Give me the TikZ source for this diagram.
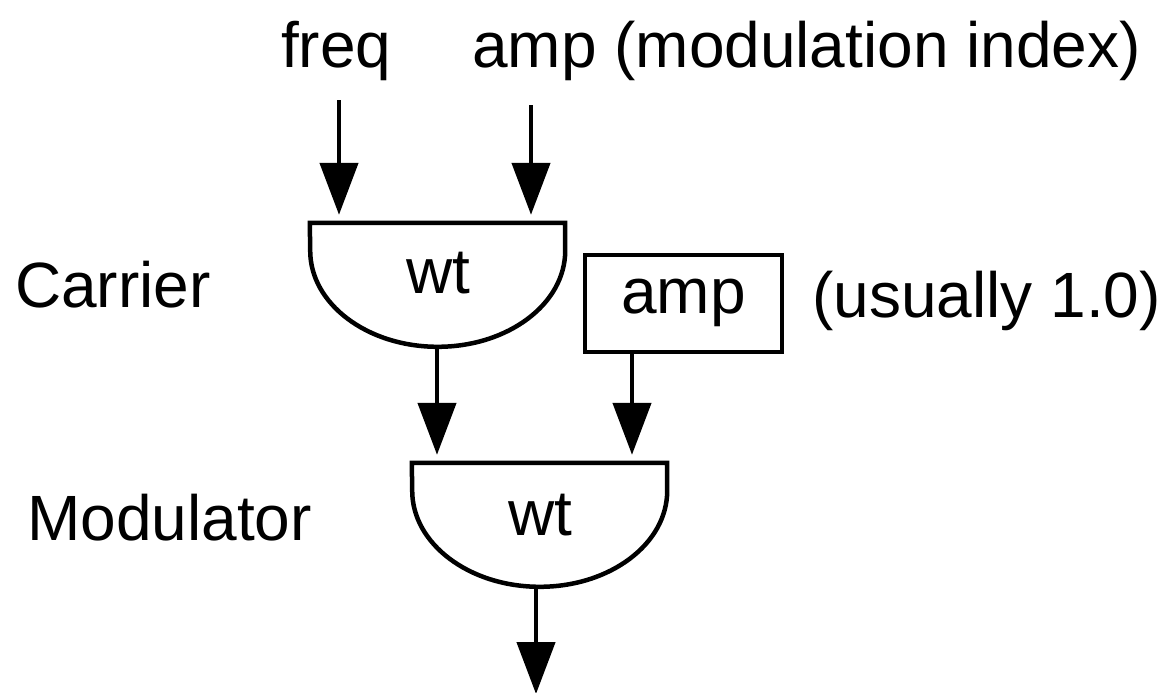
\documentclass[tikz,border=0pt]{standalone}
\usepackage{fontspec}
\setmainfont{Liberation Sans}
\usetikzlibrary{arrows.meta}
\begin{document}
\begin{tikzpicture}[x=1pt,y=1pt,
  ln/.style={line width=4.5pt, line join=miter},
  arr/.style={line width=4.5pt, -{Triangle[length=52pt,width=38pt]}, shorten >=8pt},
  lbl/.style={anchor=base west, inner sep=0pt, font=\fontsize{64}{76}\selectfont},
  ctr/.style={anchor=base, inner sep=0pt, font=\fontsize{64}{76}\selectfont},
  osc/.style={minimum width=255pt, minimum height=124pt, inner sep=0pt},
  ampbox/.style={draw, line width=4.5pt, minimum width=197pt, minimum height=97pt, inner sep=0pt,
     font=\fontsize{64}{76}\selectfont, text height=33pt, text depth=14pt}]
\useasboundingbox (0,0) rectangle (1165,-693);

% labels
\node[lbl] (freq) at (281,-68) {freq};
\node[lbl] (ampidx) at (472,-68) {amp (modulation index)};
\node[lbl] (carlbl) at (15,-307) {Carrier};
\node[lbl] (modlbl) at (27,-540) {Modulator};
\node[lbl] (usual) at (812,-317) {(usually 1.0)};

% carrier oscillator
\node[osc] (car) at (437.5,-285) {};
\draw[ln] (car.north west) -- (car.north east) -- ++(0,-28)
  arc[start angle=0, end angle=-180, x radius=127.5pt, y radius=96pt] -- cycle;
\node[ctr] (wt1) at (438,-293) {wt};

% modulator oscillator
\node[osc] (mod) at (539.5,-525) {};
\draw[ln] (mod.north west) -- (mod.north east) -- ++(0,-28)
  arc[start angle=0, end angle=-180, x radius=127.5pt, y radius=96pt] -- cycle;
\node[ctr] (wt2) at (540,-535) {wt};

% amp box
\node[ampbox] (box) at (683.5,-303.5) {amp};

% connectors
\coordinate (f0) at (339,-100);
\coordinate (a0) at (531,-105);
\coordinate (bx) at (632,0);
\coordinate (cx) at (437,0);
\coordinate (out) at (536,-702);
\draw[arr] (f0) -- (f0 |- car.north);
\draw[arr] (a0) -- (a0 |- car.north);
\draw[line width=4.5pt, -{Triangle[length=52pt,width=38pt]}, shorten >=8pt] (cx |- car.south) -- (cx |- mod.north);
\draw[arr] (bx |- box.south) -- (bx |- mod.north);
\draw[arr] (out |- mod.south) -- (out);
\end{tikzpicture}
\end{document}
